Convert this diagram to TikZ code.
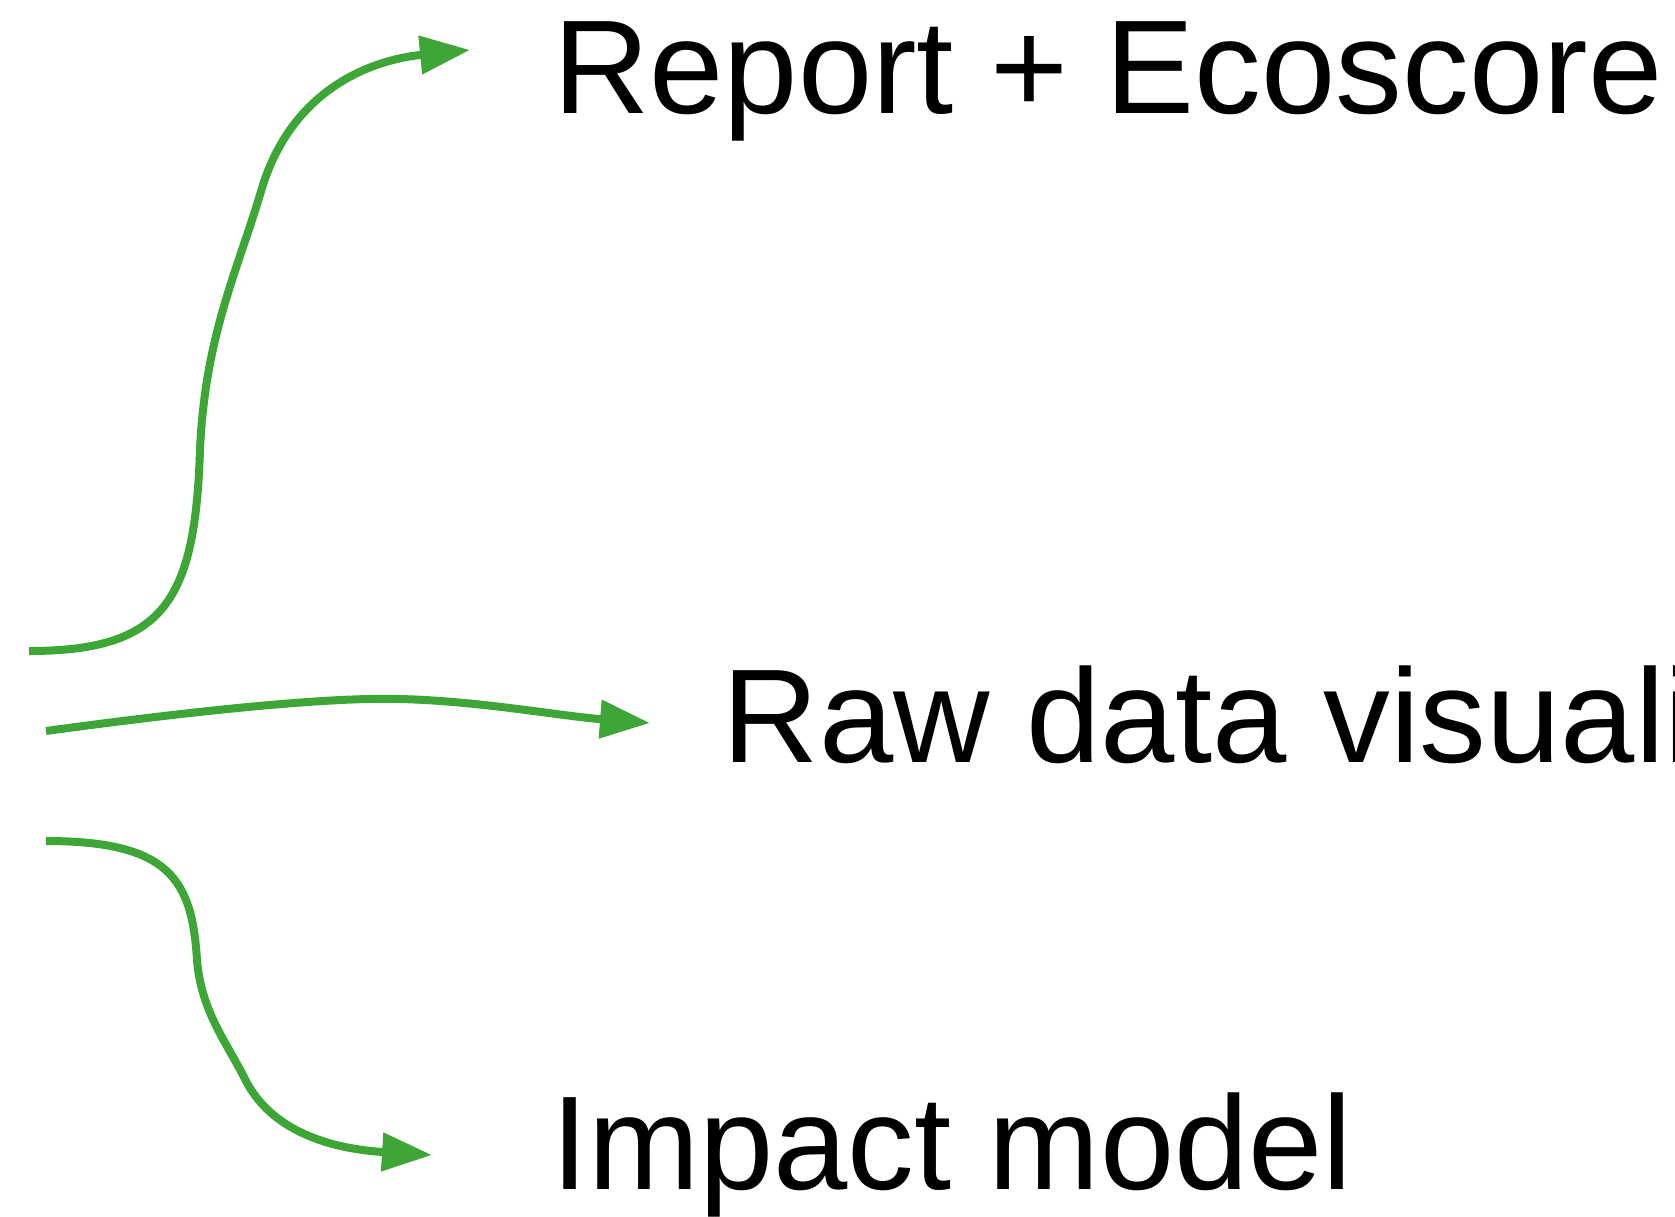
\documentclass[tikz,border=0pt]{standalone}
\usepackage{fontspec}
\setmainfont{Liberation Sans}
\usetikzlibrary{arrows.meta}
\definecolor{arrgreen}{RGB}{61,166,54}
\tikzset{
  arr/.style={draw=arrgreen, line width=8pt, -{Triangle[length=50pt,width=37pt]}},
  lbl/.style={inner sep=0pt, anchor=base west, font=\fontsize{133.5}{160}\selectfont}
}
\begin{document}
\begin{tikzpicture}[x=1pt,y=-1pt]
\useasboundingbox (0,0) rectangle (1675,1217);
\clip (0,0) rectangle (1675,1217);
% labels
\node[lbl] (report) at (553,114) {Report + Ecoscore};
\node[lbl] (raw) at (722.5,762) {Raw data visualisation};
\node[lbl] (impact) at (551,1189) {Impact model};
% connector ends
\coordinate (s1) at (29,651);
\coordinate (t1) at (470,50);
\coordinate (s2) at (46,731);
\coordinate (t2) at (650,723);
\coordinate (s3) at (46,841);
\coordinate (t3) at (432,1155);
% connectors
\draw[arr] (s1) .. controls (165,651) and (195,600) .. (200,450)
  .. controls (205,335) and (238,270) .. (262,188)
  .. controls (292,90) and (370,60) .. (t1);
\draw[arr] (s2) .. controls (200,710) and (330,697) .. (400,699)
  .. controls (480,701) and (560,716) .. (t2);
\draw[arr] (s3) .. controls (170,841) and (192,880) .. (197,960)
  .. controls (201,1010) and (225,1040) .. (245,1079)
  .. controls (275,1140) and (350,1150) .. (t3);
\end{tikzpicture}
\end{document}
